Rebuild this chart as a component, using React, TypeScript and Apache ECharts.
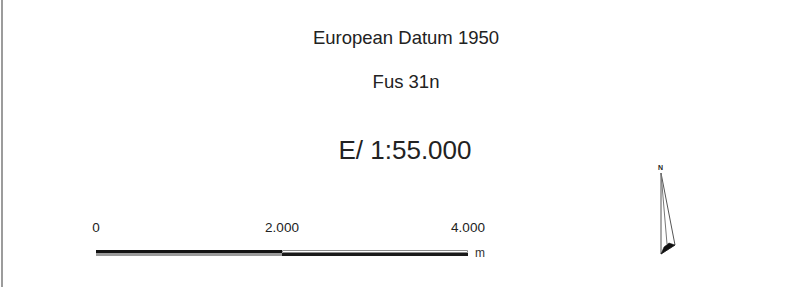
import React, { useEffect, useRef } from "react";
import * as echarts from "echarts";

const titleLines = ["European Datum 1950", "Fus 31n"];
const scaleText = "E/ 1:55.000";
const scaleTicks = [0, 2000, 4000];
const scaleRows = ["top", "bottom"];
const firstHalf = [2000, 2000];
const secondHalf = [2000, 2000];
const unitLabel = "m";
const northLabel = "N";

const fmt = (v: number) => String(v).replace(/\B(?=(\d{3})+(?!\d))/g, ".");

export default function App() {
  const ref = useRef<HTMLDivElement>(null);
  useEffect(() => {
    if (!ref.current) return;
    const chart = echarts.init(ref.current, null, { renderer: "svg" });
    const font = "'Liberation Sans', Arial, Helvetica, sans-serif";
    chart.setOption({
      animation: false,
      backgroundColor: "#ffffff",
      grid: { left: 96, right: 342, top: 250, height: 6, containLabel: false },
      xAxis: {
        type: "value",
        position: "top",
        min: scaleTicks[0],
        max: scaleTicks[scaleTicks.length - 1],
        interval: scaleTicks[1] - scaleTicks[0],
        axisLine: { show: false },
        axisTick: { show: false },
        splitLine: { show: false },
        axisLabel: {
          show: true,
          margin: 16,
          fontSize: 13.5,
          fontFamily: font,
          color: "#222",
          showMinLabel: true,
          showMaxLabel: true,
          formatter: (v: number) => fmt(v),
        },
      },
      yAxis: {
        type: "category",
        data: scaleRows,
        inverse: true,
        show: false,
      },
      series: [
        {
          type: "bar",
          stack: "s",
          barCategoryGap: "0%",
          data: [
            { value: firstHalf[0], itemStyle: { color: "#111" } },
            { value: firstHalf[1], itemStyle: { color: "#9a9a9a" } },
          ],
        },
        {
          type: "bar",
          stack: "s",
          barCategoryGap: "0%",
          data: [
            { value: secondHalf[0], itemStyle: { color: "#ffffff", borderColor: "#8a8a8a", borderWidth: 1 } },
            { value: secondHalf[1], itemStyle: { color: "#1a1a1a" } },
          ],
        },
      ],
      graphic: [
        { type: "rect", shape: { x: 1, y: 0, width: 2, height: 287 }, style: { fill: "#9c9c9c" } },
        {
          type: "text",
          x: 406,
          y: 37,
          style: { text: titleLines[0], font: `18.5px ${font}`, fill: "#222", textAlign: "center", textVerticalAlign: "middle" },
        },
        {
          type: "text",
          x: 406,
          y: 81,
          style: { text: titleLines[1], font: `18.5px ${font}`, fill: "#222", textAlign: "center", textVerticalAlign: "middle" },
        },
        {
          type: "text",
          x: 405,
          y: 150,
          style: { text: scaleText, font: `26px ${font}`, fill: "#222", textAlign: "center", textVerticalAlign: "middle" },
        },
        {
          type: "text",
          x: 475,
          y: 253,
          style: { text: unitLabel, font: `12px ${font}`, fill: "#333", textAlign: "left", textVerticalAlign: "middle" },
        },
        {
          type: "text",
          x: 660.5,
          y: 167,
          style: { text: northLabel, font: `bold 7px ${font}`, fill: "#222", textAlign: "center", textVerticalAlign: "middle" },
        },
        {
          type: "polygon",
          shape: { points: [[661, 173], [661, 254], [675, 245]] },
          style: { fill: "#ffffff", stroke: "#555", lineWidth: 1 },
        },
        {
          type: "line",
          shape: { x1: 661, y1: 173, x2: 667, y2: 244 },
          style: { stroke: "#777", lineWidth: 1 },
        },
        {
          type: "polygon",
          shape: { points: [[661, 254], [664, 247], [669, 243], [675, 245]] },
          style: { fill: "#111", stroke: "#111", lineWidth: 0.5 },
        },
      ],
    });
    return () => chart.dispose();
  }, []);
  return (
    <div
      ref={ref}
      style={{ position: "fixed", left: 0, top: 0, width: 810, height: 287 }}
    />
  );
}
